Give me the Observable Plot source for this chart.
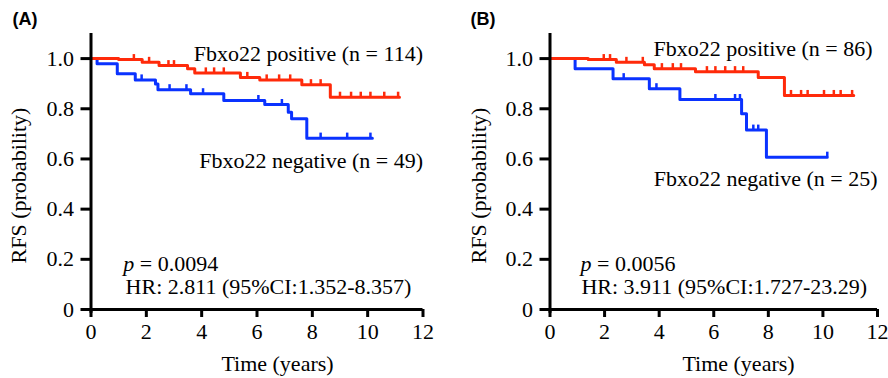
<!DOCTYPE html>
<html>
<head>
<meta charset="utf-8">
<script src="https://cdn.jsdelivr.net/npm/d3@7"></script>
<script src="https://cdn.jsdelivr.net/npm/@observablehq/plot@0.6"></script>
<style>
  html, body { margin: 0; padding: 0; background: #fff; }
  #wrap { position: relative; width: 888px; height: 378px; overflow: hidden; }
  #wrap svg { position: absolute; top: 0; }
</style>
</head>
<body>
<div id="wrap"></div>
<script>
// ---------- data ----------
const xTicks = [0, 2, 4, 6, 8, 10, 12];
const yTicks = [0, 0.2, 0.4, 0.6, 0.8, 1.0];
const yTickLabels = ["0", "0.2", "0.4", "0.6", "0.8", "1.0"];

// Panel A
const aPosTimes = [0, 1.0, 1.85, 2.46, 3.49, 3.75, 5.4, 6.1, 7.62, 8.65, 11.15];
const aPosSurv  = [1, 0.996, 0.985, 0.972, 0.96, 0.943, 0.925, 0.915, 0.896, 0.846, 0.846];
const aPosCens  = [1.55, 2.1, 2.8, 3.0, 4.15, 4.45, 4.8, 5.65, 6.35, 6.8, 7.2, 7.95, 8.3, 9.0, 9.4, 9.75, 10.1, 10.6, 11.1];
const aNegTimes = [0, 0.22, 0.95, 1.6, 2.33, 2.42, 3.6, 4.8, 6.28, 7.13, 7.25, 7.8, 10.17];
const aNegSurv  = [1, 0.979, 0.94, 0.915, 0.899, 0.876, 0.86, 0.833, 0.817, 0.786, 0.76, 0.683, 0.683];
const aNegCens  = [1.83, 2.84, 3.45, 4.05, 6.05, 6.9, 8.3, 9.26, 10.1];

// Panel B
const bPosTimes = [0, 1.4, 2.43, 3.46, 3.82, 5.33, 7.63, 8.59, 11.13];
const bPosSurv  = [1, 0.996, 0.985, 0.975, 0.96, 0.948, 0.925, 0.853, 0.853];
const bPosCens  = [1.97, 2.2, 2.8, 3.4, 4.1, 4.5, 4.8, 5.75, 6.06, 6.42, 6.78, 7.08, 8.83, 9.2, 9.44, 10.04, 10.4, 10.65, 11.07];
const bNegTimes = [0, 0.92, 2.31, 3.64, 4.76, 7.02, 7.2, 7.93, 10.16];
const bNegSurv  = [1, 0.96, 0.92, 0.88, 0.837, 0.78, 0.715, 0.607, 0.607];
const bNegCens  = [2.7, 3.9, 6.06, 6.78, 6.96, 7.45, 7.63, 10.16];

const panelLetters = ["(A)", "(B)"];
const posLabels = ["Fbxo22 positive (n = 114)", "Fbxo22 positive (n = 86)"];
const negLabels = ["Fbxo22 negative (n = 49)", "Fbxo22 negative (n = 25)"];
const pLabels = ["p = 0.0094", "p = 0.0056"];
const hrLabels = ["HR: 2.811 (95%CI:1.352-8.357)", "HR: 3.911 (95%CI:1.727-23.29)"];
const xLabel = "Time (years)";
const yLabel = "RFS (probability)";

const RED = "#ff2a0a";
const BLUE = "#0a32ff";
const SERIF = "'Liberation Serif', 'Times New Roman', serif";
const FS = 22;

function series(times, surv) {
  return times.map((t, i) => ({t, s: surv[i]}));
}
function survAt(times, surv, t) {
  let v = surv[0];
  for (let i = 0; i < times.length; i++) if (times[i] <= t) v = surv[i];
  return v;
}
function cens(times, surv, cs) {
  return cs.map(t => ({t, s: survAt(times, surv, t)}));
}

function panel(cfg) {
  const pos = series(cfg.pt, cfg.ps), neg = series(cfg.nt, cfg.ns);
  const pc = cens(cfg.pt, cfg.ps, cfg.pc), nc = cens(cfg.nt, cfg.ns, cfg.nc);
  const svg = Plot.plot({
    width: cfg.width,
    height: 378,
    marginLeft: cfg.ml,
    marginRight: cfg.mr,
    marginTop: 33,
    marginBottom: 69,
    style: {fontFamily: SERIF, fontSize: FS + "px", color: "black", background: "white", overflow: "visible"},
    x: {domain: [0, 12]},
    y: {domain: [0, 1.1]},
    marks: [
      Plot.line(neg, {x: "t", y: "s", curve: "step-after", stroke: BLUE, strokeWidth: 3}),
      Plot.ruleX(nc, {x: "t", y1: "s", y2: d => d.s + 0.02, stroke: BLUE, strokeWidth: 2.5}),
      Plot.line(pos, {x: "t", y: "s", curve: "step-after", stroke: RED, strokeWidth: 3}),
      Plot.ruleX(pc, {x: "t", y1: "s", y2: d => d.s + 0.02, stroke: RED, strokeWidth: 2.5}),
      Plot.ruleY([0], {x1: 0, x2: 12, stroke: "black", strokeWidth: 3}),
      Plot.ruleX([0], {y1: -0.015, y2: 1.1, stroke: "black", strokeWidth: 3}),
      Plot.axisX({ticks: xTicks, tickFormat: d => String(d), tickSize: 8, tickPadding: 6, strokeWidth: 3, label: null, fontSize: FS}),
      Plot.axisY({ticks: yTicks, tickFormat: d => yTickLabels[yTicks.indexOf(d)], tickSize: 10, tickPadding: 7, strokeWidth: 3, label: null, fontSize: FS}),
      Plot.text([cfg.posLabel], {x: cfg.posX, y: cfg.posY, text: d => d, textAnchor: "end", fontSize: FS}),
      Plot.text([cfg.negLabel], {x: cfg.negX, y: cfg.negY, text: d => d, textAnchor: "end", fontSize: FS}),
      Plot.text([cfg.pLabel], {x: cfg.pX, y: 0.183, text: d => d, textAnchor: "start", fontSize: FS}),
      Plot.text([cfg.hrLabel], {x: cfg.hrX, y: 0.088, text: d => d, textAnchor: "start", fontSize: FS}),
      Plot.text([xLabel], {frameAnchor: "bottom", dx: cfg.xlDx, dy: 54, text: d => d, textAnchor: "middle", lineAnchor: "middle", fontSize: FS}),
      Plot.text([yLabel], {frameAnchor: "left", dx: cfg.ylDx, dy: 14, rotate: -90, text: d => d, textAnchor: "middle", lineAnchor: "middle", fontSize: FS}),
      Plot.text([cfg.letter], {frameAnchor: "top-left", dx: cfg.letDx, dy: -14, text: d => d, textAnchor: "start", lineAnchor: "middle",
        fontFamily: "'Liberation Sans', Arial, sans-serif", fontWeight: "bold", fontSize: 18})
    ]
  });
  d3.select(svg).selectAll("text").filter(function() { return this.textContent.startsWith("p = "); })
    .each(function() {
      const rest = this.textContent.slice(1);
      this.textContent = "";
      d3.select(this).append("tspan").attr("font-style", "italic").text("p");
      d3.select(this).append("tspan").text(rest);
    });
  svg.style.left = cfg.left + "px";
  return svg;
}

const wrap = document.getElementById("wrap");
wrap.appendChild(panel({
  left: 0, width: 444, ml: 90.5, mr: 21.5,
  pt: aPosTimes, ps: aPosSurv, pc: aPosCens, nt: aNegTimes, ns: aNegSurv, nc: aNegCens,
  posLabel: posLabels[0], posX: 12, posY: 1.02,
  negLabel: negLabels[0], negX: 12, negY: 0.594,
  pLabel: pLabels[0], pX: 1.17, hrLabel: hrLabels[0], hrX: 1.25,
  xlDx: 20.5, ylDx: -72.5, letDx: -78.5, letter: panelLetters[0]
}));
wrap.appendChild(panel({
  left: 444, width: 444, ml: 105.5, mr: 11,
  pt: bPosTimes, ps: bPosSurv, pc: bPosCens, nt: bNegTimes, ns: bNegSurv, nc: bNegCens,
  posLabel: posLabels[1], posX: 11.82, posY: 1.04,
  negLabel: negLabels[1], negX: 12.0, negY: 0.522,
  pLabel: pLabels[1], pX: 1.12, hrLabel: hrLabels[1], hrX: 1.15,
  xlDx: 24.75, ylDx: -71.5, letDx: -79.5, letter: panelLetters[1]
}));
</script>
</body>
</html>
